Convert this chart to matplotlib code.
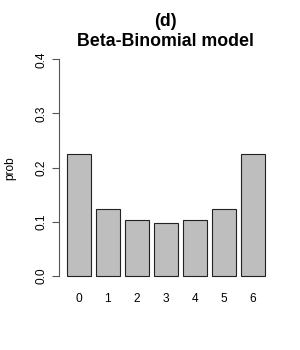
import matplotlib
matplotlib.use("Agg")
import matplotlib.pyplot as plt

plt.rcParams["font.family"] = ["Liberation Sans", "DejaVu Sans"]

# ---------------------------------------------------------------------------
# Data
# ---------------------------------------------------------------------------
categories = ["0", "1", "2", "3", "4", "5", "6"]
prob = [0.2256, 0.1230, 0.1025, 0.0977, 0.1025, 0.1230, 0.2256]
y_ticks = [0.0, 0.1, 0.2, 0.3, 0.4]
y_ticklabels = ["0.0", "0.1", "0.2", "0.3", "0.4"]

# R barplot layout: width 1, space 0.2
mids = [0.7 + 1.2 * i for i in range(len(categories))]

fig = plt.figure(figsize=(3.0, 3.5), dpi=100)
ax = fig.add_axes([0.196, 0.1866, 0.714, 0.6688])

ax.bar(mids, prob, width=1.0, color="#BEBEBE", edgecolor="#222222",
       linewidth=0.8)

ax.set_xlim(-0.128, 8.728)
ax.set_ylim(-0.016, 0.416)

for side in ["top", "right", "bottom"]:
    ax.spines[side].set_visible(False)
ax.spines["left"].set_bounds(0, 0.4)
ax.spines["left"].set_color("#555555")
ax.spines["left"].set_linewidth(0.8)

ax.set_yticks(y_ticks)
ax.set_yticklabels(y_ticklabels, rotation=90, va="center", fontsize=8.6)
ax.tick_params(axis="y", length=5, width=0.8, color="#555555", pad=3)

ax.set_xticks(mids)
ax.set_xticklabels(categories, fontsize=8.6)
ax.tick_params(axis="x", length=0, pad=6)

ax.set_ylabel("prob", fontsize=8.6, labelpad=14)

fig.text(0.553, 1 - 21 / 350, "(d)", ha="center", va="center",
         fontsize=12.8, fontweight="bold")
fig.text(0.553, 1 - 42 / 350, "Beta-Binomial model", ha="center",
         va="center", fontsize=12.8, fontweight="bold")

fig.savefig("out.png", dpi=100, facecolor="white")
